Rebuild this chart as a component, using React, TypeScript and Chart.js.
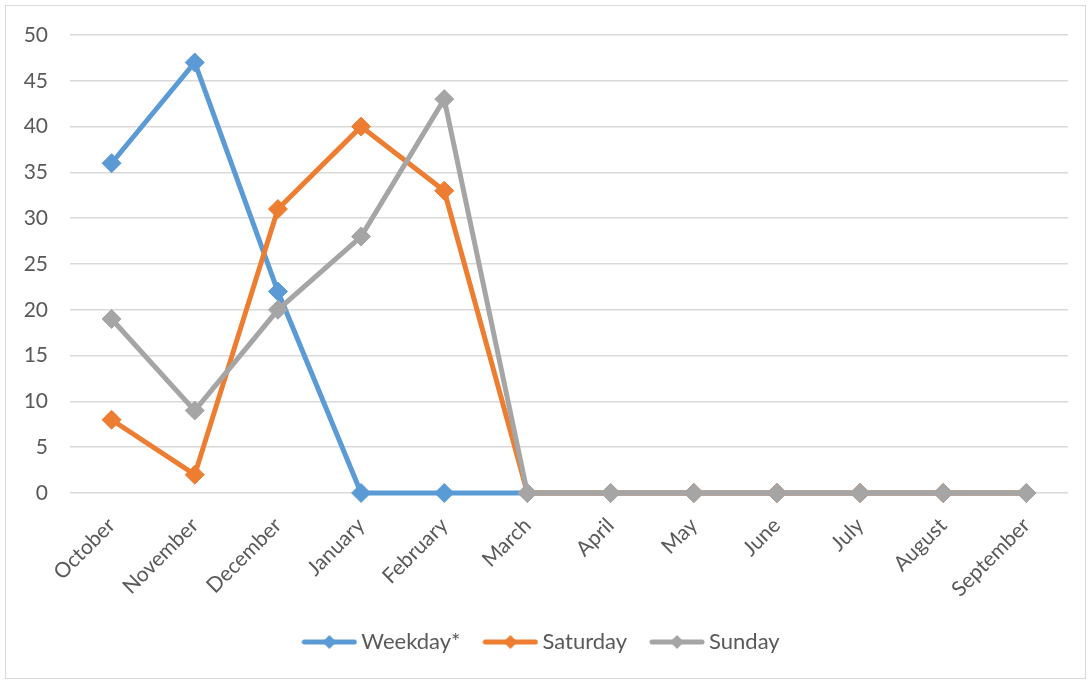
import React, { useEffect, useRef } from "react";
import { Chart, registerables } from "chart.js";

Chart.register(...registerables);

const categories = [
  "October", "November", "December", "January", "February", "March",
  "April", "May", "June", "July", "August", "September",
];
const weekday = [36, 47, 22, 0, 0, 0, 0, 0, 0, 0, 0, 0];
const saturday = [8, 2, 31, 40, 33, 0, 0, 0, 0, 0, 0, 0];
const sunday = [19, 9, 20, 28, 43, 0, 0, 0, 0, 0, 0, 0];
const seriesNames = ["Weekday*", "Saturday", "Sunday"];
const seriesColors = ["#5B9BD5", "#ED7D31", "#A5A5A5"];

const FONT = "Lato, 'Open Sans', sans-serif";
const TEXT = "#595959";

function legendImage(color: string): HTMLCanvasElement {
  const c = document.createElement("canvas");
  c.width = 56;
  c.height = 16;
  const ctx = c.getContext("2d")!;
  ctx.strokeStyle = color;
  ctx.lineWidth = 5;
  ctx.lineCap = "round";
  ctx.beginPath();
  ctx.moveTo(3, 8);
  ctx.lineTo(53, 8);
  ctx.stroke();
  ctx.fillStyle = color;
  ctx.beginPath();
  ctx.moveTo(28 - 7, 8);
  ctx.lineTo(28, 1);
  ctx.lineTo(28 + 7, 8);
  ctx.lineTo(28, 15);
  ctx.closePath();
  ctx.fill();
  return c;
}

export default function App() {
  const ref = useRef<HTMLCanvasElement | null>(null);

  useEffect(() => {
    document.body.style.margin = "0";
    const canvas = ref.current;
    if (!canvas) return;
    const values = [weekday, saturday, sunday];
    const images = seriesColors.map(legendImage);
    const chart = new Chart(canvas, {
      type: "line",
      data: {
        labels: categories,
        datasets: values.map((v, i) => ({
          label: seriesNames[i],
          data: v,
          borderColor: seriesColors[i],
          backgroundColor: seriesColors[i],
          borderWidth: 5,
          pointStyle: "rectRot",
          pointRadius: 9.5,
          pointBorderWidth: 1,
          pointBackgroundColor: seriesColors[i],
          pointBorderColor: seriesColors[i],
          tension: 0,
          clip: false,
          order: 3 - i,
        })),
      },
      options: {
        responsive: false,
        animation: false,
        layout: { padding: { left: 20, right: 20, top: 35, bottom: 18 } },
        plugins: {
          tooltip: { enabled: false },
          legend: {
            position: "bottom",
            labels: {
              usePointStyle: true,
              pointStyleWidth: 42,
              padding: 29,
              color: TEXT,
              font: { family: FONT, size: 22 },
              generateLabels: (ch: any) =>
                ch.data.datasets.map((ds: any, i: number) => ({
                  text: ds.label,
                  fillStyle: seriesColors[i],
                  strokeStyle: seriesColors[i],
                  lineWidth: 0,
                  pointStyle: images[i],
                  datasetIndex: i,
                  hidden: false,
                  fontColor: TEXT,
                })),
            },
          },
        },
        scales: {
          x: {
            offset: true,
            grid: { display: false, drawTicks: false },
            border: { display: false },
            ticks: {
              color: TEXT,
              font: { family: FONT, size: 21 },
              minRotation: 45,
              maxRotation: 45,
              padding: 20,
            },
            afterFit: (s: any) => {
              s.height = 109;
            },
          },
          y: {
            min: 0,
            max: 50,
            grid: { color: "#D9D9D9", lineWidth: 1.5, drawTicks: false },
            border: { display: false },
            ticks: {
              stepSize: 5,
              color: TEXT,
              font: { family: FONT, size: 21 },
              padding: 22,
            },
            afterFit: (s: any) => {
              s.width = 50;
            },
          },
        },
      },
    } as any);
    return () => chart.destroy();
  }, []);

  return (
    <div style={{ position: "absolute", left: 0, top: 0, width: 1088, height: 681, background: "#fff" }}>
      <div
        style={{
          position: "absolute",
          left: 5,
          top: 5,
          width: 1079,
          height: 672,
          border: "1px solid #D9D9D9",
        }}
      />
      <canvas
        ref={ref}
        width={1088}
        height={681}
        style={{ position: "absolute", left: 0, top: 0, width: 1088, height: 681 }}
      />
    </div>
  );
}
